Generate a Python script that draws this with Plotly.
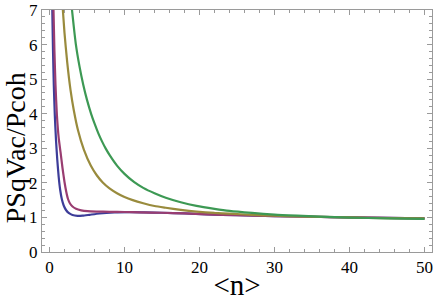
import plotly.graph_objects as go

# Read-off points for each curve (x = <n>, y = PSqVac/Pcoh)
blue_x = [0.373, 0.467, 0.573, 0.707, 0.867, 1.04, 1.227, 1.427, 1.64, 1.893, 2.2, 2.6, 3.067, 3.733, 4.4, 5.333, 6.667, 8.667, 10.667, 12.667, 15, 18, 21, 25, 30, 35, 40, 45, 50]
blue_y = [7.0, 5.843, 4.831, 3.963, 3.24, 2.661, 2.169, 1.793, 1.533, 1.345, 1.215, 1.122, 1.07, 1.044, 1.05, 1.076, 1.114, 1.143, 1.151, 1.145, 1.135, 1.115, 1.09, 1.065, 1.04, 1.02, 1.0, 0.985, 0.97]

purple_x = [0.533, 0.653, 0.8, 0.987, 1.227, 1.467, 1.733, 2.0, 2.24, 2.467, 2.733, 3.067, 3.533, 4.227, 5.067, 6.267, 8.0, 10.0, 12.0, 15, 18, 21, 25, 30, 35, 40, 45, 50]
purple_y = [7.0, 5.843, 4.831, 3.963, 3.298, 2.893, 2.43, 2.025, 1.736, 1.533, 1.403, 1.316, 1.25, 1.206, 1.18, 1.169, 1.163, 1.157, 1.148, 1.135, 1.115, 1.09, 1.065, 1.04, 1.02, 1.0, 0.985, 0.97]

olive_x = [1.78, 2.0, 2.36, 2.8, 3.24, 3.8, 4.58, 5.5, 6.3, 7.1, 8, 9, 10, 11.1, 12.5, 14, 15.5, 17.5, 19.6, 22, 24, 27, 30, 33, 36, 40, 45, 50]
olive_y = [7.0, 6.34, 5.49, 4.69, 4.10, 3.52, 2.96, 2.50, 2.22, 2.01, 1.84, 1.70, 1.59, 1.50, 1.41, 1.33, 1.28, 1.22, 1.17, 1.13, 1.11, 1.075, 1.05, 1.03, 1.015, 1.0, 0.98, 0.97]

green_x = [3.0, 3.5, 4.0, 4.5, 5.0, 5.56, 6.0, 6.5, 7.0, 7.5, 8, 9, 10, 11.3, 12.5, 14, 15.5, 17.5, 19.6, 22, 24, 27, 30, 33, 36, 40, 45, 50]
green_y = [7.0, 6.03, 5.37, 4.84, 4.40, 3.99, 3.72, 3.44, 3.20, 2.99, 2.81, 2.50, 2.26, 2.02, 1.855, 1.70, 1.57, 1.44, 1.335, 1.25, 1.19, 1.13, 1.08, 1.05, 1.025, 0.995, 0.975, 0.96]

series = [
    (blue_x, blue_y, "#3d3d99"),
    (purple_x, purple_y, "#993d71"),
    (olive_x, olive_y, "#998b3d"),
    (green_x, green_y, "#3d9954"),
]

x_ticks = [0, 10, 20, 30, 40, 50]
y_ticks = [0, 1, 2, 3, 4, 5, 6, 7]

fig = go.Figure()
for xs, ys, col in series:
    fig.add_trace(go.Scatter(x=xs, y=ys, mode="lines",
                             line=dict(color=col, width=2.2, shape="spline", smoothing=0.6),
                             showlegend=False, cliponaxis=True))

font = "Liberation Serif"
axis_common = dict(
    showline=True, linecolor="#9a9a9a", linewidth=1, mirror="allticks",
    ticks="inside", ticklen=5, tickcolor="#9a9a9a", tickwidth=1,
    showgrid=False, zeroline=False, automargin=False, ticklabeloverflow="allow",
    tickfont=dict(family=font, size=17, color="black"),
)

fig.update_xaxes(range=[-1, 51], tickvals=x_ticks,
                 minor=dict(dtick=2, ticks="inside", ticklen=3, tickcolor="#9a9a9a", showgrid=False),
                 title=dict(text="&lt;n&gt;", font=dict(family=font, size=29, color="black"), standoff=0),
                 **axis_common)
fig.update_yaxes(range=[0, 7], tickvals=y_ticks,
                 minor=dict(dtick=0.2, ticks="inside", ticklen=3, tickcolor="#9a9a9a", showgrid=False),
                 **axis_common)

# y-axis title as a rotated annotation (placed slightly below the axis centre, as in the reference)
fig.add_annotation(text="PSqVac/Pcoh", xref="paper", yref="paper", x=-0.066, y=0.43,
                   xanchor="center", yanchor="middle", textangle=-90, showarrow=False,
                   font=dict(family=font, size=28, color="black"))

fig.update_layout(
    width=436, height=301,
    margin=dict(l=42, r=4, t=10, b=49),
    paper_bgcolor="white", plot_bgcolor="white",
)

fig.write_html("out.html", config={"displayModeBar": False},
               post_script="document.body.style.margin='0';")
